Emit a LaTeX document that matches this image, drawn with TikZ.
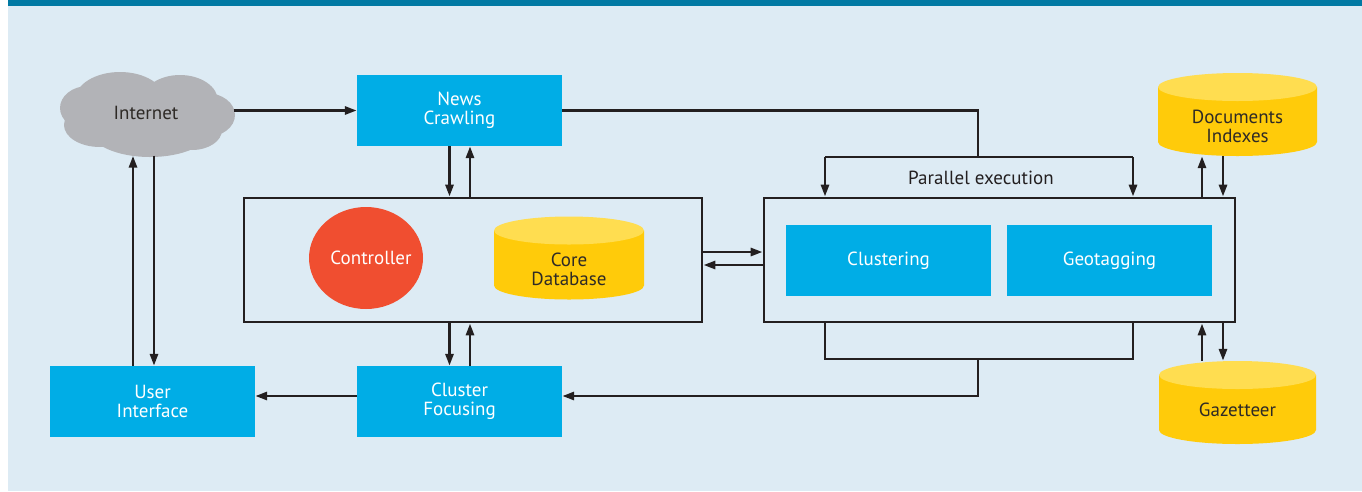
\documentclass[tikz,border=0pt]{standalone}
\usepackage{fontspec}
\setmainfont{PT Sans}
\usetikzlibrary{arrows.meta,shapes.geometric}
\definecolor{bg}{HTML}{DDEBF4}
\definecolor{barblue}{HTML}{0079A3}
\definecolor{boxblue}{HTML}{00ADE6}
\definecolor{ctrlred}{HTML}{F04E30}
\definecolor{cylbody}{HTML}{FFCB0A}
\definecolor{cyltop}{HTML}{FFDD50}
\definecolor{cloudgray}{HTML}{B2B3B7}
\definecolor{ink}{HTML}{231F20}
\definecolor{darktext}{HTML}{2E2A26}
\tikzset{
  every node/.style={font=\fontsize{19}{19}\selectfont},
  bluebox/.style={fill=boxblue, text=white, minimum width=205pt, minimum height=71pt, inner sep=0pt, align=center},
  frame/.style={draw=ink, line width=2.8pt, inner sep=0pt},
  conn/.style={draw=ink, line width=2.8pt},
  arr/.style={conn, -{Triangle[length=12pt,width=8pt]}},
  dbcyl/.style={minimum width=#1pt, minimum height=83pt, inner sep=0pt,
    path picture={
      \fill[cylbody] ([yshift=-14pt]path picture bounding box.north west)
        -- ([yshift=14pt]path picture bounding box.south west)
        arc[start angle=180, end angle=360, x radius=#1pt/2, y radius=14pt]
        -- ([yshift=-14pt]path picture bounding box.north east) -- cycle;
      \fill[cyltop] ([yshift=-14pt]path picture bounding box.north) ellipse[x radius=#1pt/2, y radius=14pt];
    }},
  cyltext/.style={text=darktext, align=center},
}
\begin{document}
\begin{tikzpicture}[x=1pt,y=-1pt]
\useasboundingbox (0,0) rectangle (1362,491);
\fill[bg] (8,6) rectangle (1362,491);
\fill[barblue] (8,0) rectangle (1362,6);

% cloud silhouette
\fill[cloudgray]
  (88,108) ellipse[x radius=28pt, y radius=22pt]
  (120,100) ellipse[x radius=45pt, y radius=28pt]
  (180,101) ellipse[x radius=38pt, y radius=26pt]
  (206,115) ellipse[x radius=29pt, y radius=22pt]
  (150,130) ellipse[x radius=60pt, y radius=27pt]
  (100,125) ellipse[x radius=36pt, y radius=22pt]
  (192,130) ellipse[x radius=30pt, y radius=20pt]
  (147,114) ellipse[x radius=70pt, y radius=30pt];

% nodes
\node[minimum width=175pt, minimum height=85pt, inner sep=0pt, text=darktext] (internet) at (146,113) {Internet};
\node[bluebox] (news) at (459.5,110.5) {News\\Crawling};
\node[frame, minimum width=458pt, minimum height=124pt] (mainbox) at (473,260) {};
\node[frame, minimum width=471pt, minimum height=124pt] (rightbox) at (999.5,260) {};
\node[ellipse, fill=ctrlred, minimum width=114pt, minimum height=102pt, inner sep=0pt] (ctrl) at (366,258) {};
\node[text=white] (ctrltext) at (371,258) {Controller};
\node[dbcyl=150, label={[cyltext, yshift=-11pt]center:Core\\Database}] (core) at (569,258) {};
\node[bluebox] (clus) at (888.5,260.5) {Clustering};
\node[bluebox] (geo) at (1109.5,260.5) {Geotagging};
\node[dbcyl=159, label={[cyltext, yshift=-11.5pt]center:Documents\\Indexes}] (docs) at (1237.5,114.5) {};
\node[dbcyl=157, label={[cyltext, yshift=-7pt]center:Gazetteer}] (gaz) at (1237.5,402.5) {};
\node[bluebox] (ui) at (152.5,401.5) {User\\Interface};
\node[bluebox] (cf) at (459.5,401.5) {Cluster\\Focusing};
\node[text=ink] (par) at (981,178) {Parallel execution};

% junction coordinates
\coordinate (tj) at (978,157);
\coordinate (pl) at (825,157);
\coordinate (pr) at (1133,157);
\coordinate (bl) at (825,359);
\coordinate (br) at (1133,359);
\coordinate (bm) at (978,359);

% connectors
\draw[arr] (internet.east |- news.west) -- (news.west);
\draw[conn] (news.east) -| (tj);
\draw[conn] (pl) -- (pr);
\draw[arr] (pl) -- (pl |- rightbox.north);
\draw[arr] (pr) -- (pr |- rightbox.north);

\draw[arr] ([xshift=-10pt]news.south) -- ([xshift=-10pt]news.south |- mainbox.north);
\draw[arr] ([xshift=10.5pt]news.south |- mainbox.north) -- ([xshift=10.5pt]news.south);
\draw[arr] ([xshift=-10pt]cf.north |- mainbox.south) -- ([xshift=-10pt]cf.north);
\draw[arr] ([xshift=10.5pt]cf.north) -- ([xshift=10.5pt]cf.north |- mainbox.south);

\draw[arr] ([yshift=5.5pt]cf.west) -- ([yshift=5.5pt]ui.east);
\draw[arr] ([xshift=-19.5pt]ui.north) -- ([xshift=-19.5pt]ui.north |- internet.south);
\draw[arr] ([xshift=1.5pt]ui.north |- internet.south) -- ([xshift=1.5pt]ui.north);

\draw[arr] ([yshift=8pt]mainbox.east) -- ([yshift=8pt]rightbox.west);
\draw[arr] ([yshift=-5pt]rightbox.west) -- ([yshift=-5pt]mainbox.east);

\draw[conn] (bl |- rightbox.south) -- (bl) -- (br) -- (br |- rightbox.south);
\draw[arr] (bm) |- ([yshift=5.5pt]cf.east);

\draw[arr] ([xshift=-35.5pt]docs.south |- rightbox.north) -- ([xshift=-35.5pt]docs.south);
\draw[arr] ([xshift=-14.5pt]docs.south) -- ([xshift=-14.5pt]docs.south |- rightbox.north);
\draw[arr] ([xshift=-35.5pt]gaz.north) -- ([xshift=-35.5pt]gaz.north |- rightbox.south);
\draw[arr] ([xshift=-14.5pt]gaz.north |- rightbox.south) -- ([xshift=-14.5pt]gaz.north);
\end{tikzpicture}
\end{document}
